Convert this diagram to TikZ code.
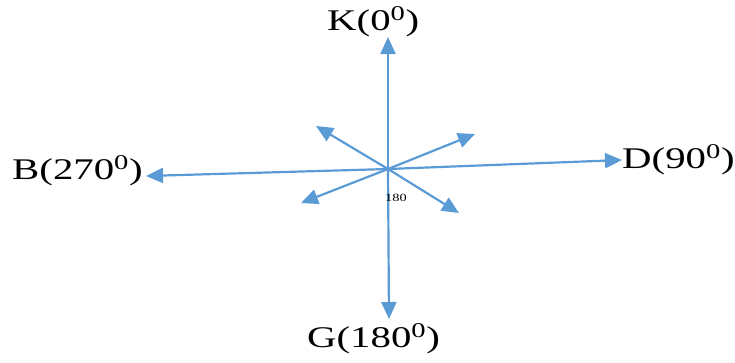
\documentclass[tikz,border=0pt]{standalone}
\usepackage{fontspec}
\setmainfont{Liberation Serif}
\usetikzlibrary{arrows.meta}
\definecolor{arrowblue}{RGB}{91,155,213}
\tikzset{
  dirarrow/.style={draw=arrowblue, line width=2.2pt, -{Triangle[length=17pt,width=15pt]}, color=arrowblue},
  lbl/.style={inner sep=0pt, font=\fontsize{30}{32}\selectfont, text=black},
}
\newcommand{\wide}[1]{\scalebox{1.36}[1]{#1}}
\begin{document}
\begin{tikzpicture}[x=1pt,y=-1pt]
\useasboundingbox (0,0) rectangle (735,362);
\coordinate (c) at (388,169);
\coordinate (kt) at (388,37);
\coordinate (gt) at (389,319);
\coordinate (bt) at (146,176);
\coordinate (dt) at (622,160);
\coordinate (ul) at (316,126);
\coordinate (ur) at (475,134);
\coordinate (ll) at (301,203);
\coordinate (lr) at (459,213);
\draw[dirarrow] (c) -- (kt);
\draw[dirarrow] (c) -- (gt);
\draw[dirarrow] (c) -- (bt);
\draw[dirarrow] (c) -- (dt);
\draw[dirarrow] (c) -- (ul);
\draw[dirarrow] (c) -- (ur);
\draw[dirarrow] (c) -- (ll);
\draw[dirarrow] (c) -- (lr);
\node[lbl, anchor=base west] (k) at (327,30) {\wide{K(0$^{\mathrm{0}}$)}};
\node[lbl, anchor=base west] (b) at (12,179) {\wide{B(270$^{\mathrm{0}}$)}};
\node[lbl, anchor=base west] (d) at (622,168) {\wide{D(90$^{\mathrm{0}}$)}};
\node[lbl, anchor=base west] (g) at (307,347) {\wide{G(180$^{\mathrm{0}}$)}};
\node[inner sep=0pt, anchor=base west, font=\fontsize{11}{12}\selectfont] (s) at (385,201) {\scalebox{1.3}[1]{180}};
\end{tikzpicture}
\end{document}
